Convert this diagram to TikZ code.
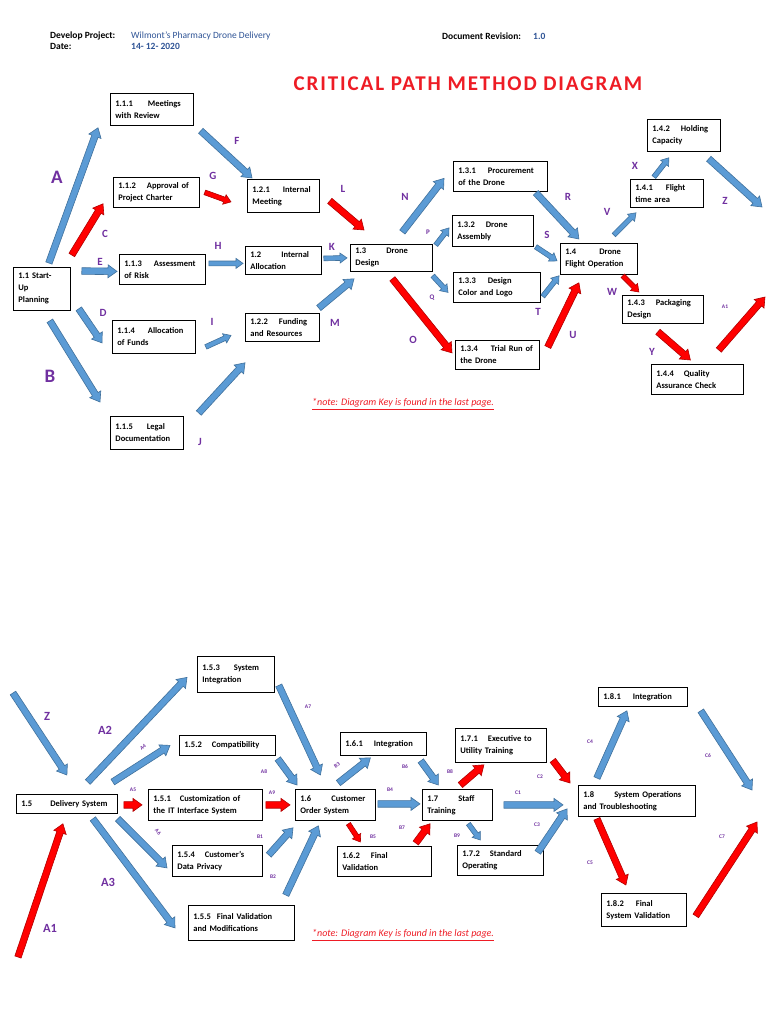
\documentclass[tikz,border=0pt]{standalone}
\usepackage{fontspec}
\setmainfont{Carlito}
\newfontfamily\titlefont[LetterSpace=9]{Carlito}
\usepackage{xcolor}
\usepackage{tikz}
\usetikzlibrary{calc}

\definecolor{arrowblue}{HTML}{5B9BD5}
\definecolor{arrowblueedge}{HTML}{41719C}
\definecolor{arrowred}{HTML}{FF0000}
\definecolor{arrowrededge}{HTML}{B00000}
\definecolor{labelpurple}{HTML}{7030A0}
\definecolor{headblue}{HTML}{2F5496}
\definecolor{titlered}{HTML}{EE1C25}

% block arrow sizes (half shaft, half head, head length)
\def\shaftw{3.3pt}
\def\headw{6.5pt}
\def\headl{9pt}

\begin{document}
\begin{tikzpicture}[x=1pt, y=-1pt,
  box/.style={draw, line width=0.8pt, anchor=north west, align=left,
              inner xsep=5pt, inner ysep=3pt,
              font=\fontsize{8.5}{12}\selectfont\bfseries},
  hdr/.style={anchor=west, inner sep=0pt, font=\fontsize{9.5}{11}\selectfont\bfseries},
  note/.style={anchor=west, inner sep=0pt, text=titlered,
               font=\fontsize{10}{12}\selectfont\itshape},
  lbl/.style={text=labelpurple, inner sep=0pt, font=\fontsize{11}{11}\selectfont\bfseries},
  lblbig/.style={lbl, font=\fontsize{19}{19}\selectfont\bfseries},
  lblmid/.style={lbl, font=\fontsize{12.5}{12.5}\selectfont\bfseries},
  lblsmall/.style={lbl, font=\fontsize{7}{7}\selectfont\bfseries},
  lbltiny/.style={lbl, font=\fontsize{5.5}{5.5}\selectfont\bfseries},
  blockarrow/.style={to path={
      let \p1=(\tikztostart), \p2=(\tikztotarget),
          \n1={atan2(\y2-\y1,\x2-\x1)}, \n2={veclen(\x2-\x1,\y2-\y1)}
      in ($(\p1)+(\n1+90:\shaftw)$)
      -- ($(\p1)+(\n1:{\n2-\headl})+(\n1+90:\shaftw)$)
      -- ($(\p1)+(\n1:{\n2-\headl})+(\n1+90:\headw)$)
      -- (\p2)
      -- ($(\p1)+(\n1:{\n2-\headl})+(\n1-90:\headw)$)
      -- ($(\p1)+(\n1:{\n2-\headl})+(\n1-90:\shaftw)$)
      -- ($(\p1)+(\n1-90:\shaftw)$) -- cycle}},
  bluearr/.style={blockarrow, draw=arrowblueedge, fill=arrowblue, line width=0.6pt},
  redarr/.style={blockarrow, draw=arrowrededge, fill=arrowred, line width=0.6pt},
  slim/.style={/utils/exec={\def\shaftw{2.4pt}\def\headw{5pt}\def\headl{7pt}}}
]
  \fill[white] (0,0) rectangle (768,1024);
  \useasboundingbox (0,0) rectangle (768,1024);

  % header
  \node[hdr] (projkey) at (50,36) {Develop Project:};
  \node[hdr, text=headblue, font=\fontsize{9.5}{11}\selectfont] (projval) at (131,36) {Wilmont's Pharmacy Drone Delivery};
  \node[hdr] (datekey) at (50,46) {Date:};
  \node[hdr, text=headblue] (dateval) at (131,46) {14- 12- 2020};
  \node[hdr] (revkey) at (442,36) {Document Revision:};
  \node[hdr, text=headblue] (revval) at (533,36) {1.0};
  \node[inner sep=0pt, text=titlered, font=\titlefont\fontsize{21}{21}\selectfont\bfseries] (title) at (468,84) {CRITICAL PATH METHOD DIAGRAM};

  % top network
  \node[box, text width=47pt, minimum height=43pt] (n11) at (13,267) {1.1 Start-\\Up\\Planning};
  \node[box, text width=73pt, minimum height=32pt] (n111) at (110,93) {1.1.1\hspace{15pt}Meetings\\with Review};
  \node[box, text width=76pt, minimum height=30pt] (n112) at (113,177) {1.1.2\hspace{11pt}Approval of\\Project Charter};
  \node[box, text width=76pt, minimum height=30pt] (n113) at (119,254) {1.1.3\hspace{12pt}Assessment\\of Risk};
  \node[box, text width=73pt, minimum height=33pt] (n114) at (112,320) {1.1.4\hspace{13pt}Allocation\\of Funds};
  \node[box, text width=63pt, minimum height=33pt] (n115) at (110,416) {1.1.5\hspace{14pt}Legal\\Documentation};
  \node[box, text width=62pt, minimum height=33pt] (n121) at (247,179) {1.2.1\hspace{13pt}Internal\\Meeting};
  \node[box, text width=66pt, minimum height=28pt] (n12) at (245,246) {1.2\hspace{20pt}Internal\\Allocation};
  \node[box, text width=64pt, minimum height=28pt] (n122) at (245,313) {1.2.2\hspace{11pt}Funding\\and Resources};
  \node[box, text width=72pt, minimum height=27pt] (n13) at (350,244) {1.3\hspace{20pt}Drone\\Design};
  \node[box, text width=84pt, minimum height=30pt] (n131) at (453,161) {1.3.1\hspace{12pt}Procurement\\of the Drone};
  \node[box, text width=71pt, minimum height=31pt] (n132) at (452,215) {1.3.2\hspace{11pt}Drone\\Assembly};
  \node[box, text width=77pt, minimum height=30pt] (n133) at (453,272) {1.3.3\hspace{12pt}Design\\Color and Logo};
  \node[box, text width=74pt, minimum height=29pt] (n134) at (455,340) {1.3.4\hspace{13pt}Trial Run of\\the Drone};
  \node[box, text width=67pt, minimum height=31pt] (n14) at (560,243) {1.4\hspace{23pt}Drone\\Flight Operation};
  \node[box, text width=63pt, minimum height=28pt] (n141) at (630,179) {1.4.1\hspace{13pt}Flight\\time area};
  \node[box, text width=63pt, minimum height=32pt] (n142) at (647,119) {1.4.2\hspace{11pt}Holding\\Capacity};
  \node[box, text width=71pt, minimum height=28pt] (n143) at (622,295) {1.4.3\hspace{11pt}Packaging\\Design};
  \node[box, text width=82pt, minimum height=30pt] (n144) at (651,364) {1.4.4\hspace{10pt}Quality\\Assurance Check};

  \coordinate (topend) at (762,207);
  \coordinate (topexit) at (765,297);

  \draw[bluearr] ([shift={(7,-4)}]n11.north) to ([shift={(-12,2)}]n111.south west);
  \draw[redarr] ([shift={(1,-12)}]n11.north east) to ([shift={(-10,-4)}]n112.south west);
  \draw[bluearr] ([shift={(11,4)}]n11.north east) to ([shift={(-2,2)}]n113.west);
  \draw[bluearr] ([shift={(8,-2)}]n11.south east) to ([shift={(-10,6)}]n114.west);
  \draw[bluearr] ([shift={(8,10)}]n11.south) to ([shift={(-10,-14)}]n115.north west);
  \draw[bluearr] ([shift={(7,5)}]n111.south east) to ([shift={(5,-1)}]n121.north west);
  \draw[redarr, slim] ([shift={(5,0)}]n112.east) to ([shift={(-16,6)}]n121.west);
  \draw[bluearr, slim] ([shift={(3,-6)}]n113.east) to ([shift={(-2,3)}]n12.west);
  \draw[bluearr, slim] ([shift={(10,10)}]n114.east) to ([shift={(-14,8)}]n122.west);
  \draw[bluearr] ([shift={(15,-3)}]n115.north east) to ([shift={(0,21)}]n122.south west);
  \draw[redarr] ([shift={(10,5)}]n121.east) to ([shift={(14,-14)}]n13.north west);
  \draw[bluearr, slim] ([shift={(2,-2)}]n12.east) to ([shift={(-3,0)}]n13.west);
  \draw[bluearr] ([shift={(-1,-5)}]n122.north east) to ([shift={(4,7)}]n13.south west);
  \draw[bluearr] ([shift={(11,-12)}]n13.north) to ([shift={(-9,2)}]n131.west);
  \draw[bluearr, slim] ([shift={(3,1)}]n13.north east) to ([shift={(-3,-3)}]n132.west);
  \draw[bluearr, slim] ([shift={(0,4)}]n13.south east) to ([shift={(-5,5)}]n133.west);
  \draw[redarr] ([shift={(1,7)}]n13.south) to ([shift={(-3,-2)}]n134.west);
  \draw[bluearr] ([shift={(-12,1)}]n131.south east) to ([shift={(-20,-4)}]n14.north);
  \draw[bluearr, slim] ([shift={(2,0)}]n132.south east) to ([shift={(-3,2)}]n14.west);
  \draw[bluearr, slim] ([shift={(2,9)}]n133.east) to ([shift={(-1,1)}]n14.south west);
  \draw[redarr] ([shift={(8,7)}]n134.north east) to ([shift={(-20,8)}]n14.south);
  \draw[bluearr, slim] ([shift={(15,-8)}]n14.north) to ([shift={(6,5)}]n141.south west);
  \draw[bluearr, slim] ([shift={(-13,-2)}]n141.north) to ([shift={(-15,6)}]n142.south);
  \draw[bluearr] ([shift={(-12,7)}]n142.south east) to (topend);
  \draw[redarr, slim] ([shift={(-15,1)}]n14.south east) to ([shift={(-24,-3)}]n143.north);
  \draw[redarr] ([shift={(-5,8)}]n143.south) to ([shift={(-7,-4)}]n144.north);
  \draw[redarr] ([shift={(-25,-14)}]n144.north east) to (topexit);

  \node[lblbig] (lA) at (57,177) {A};
  \node[lblbig] (lB) at (50,376) {B};
  \foreach \name/\x/\y in {C/105/234, E/100/262, D/103/313, F/237/141, G/213/176,
      H/218/246, I/212/322, J/200/442, L/343/189, K/332/247, M/335/323, N/405/197,
      O/413/340, R/568/197, S/547/235, T/538/312, U/573/335, V/607/212, X/635/166,
      Z/725/201, W/612/292, Y/652/352}
    \node[lbl] (l\name) at (\x,\y) {\name};
  \node[lblsmall] (lP) at (428,232) {P};
  \node[lblsmall] (lQ) at (432,298) {Q};
  \node[lbltiny] (lAone) at (725,307) {A1};

  \node[note] (notetop) at (312,404) {\underline{*note: Diagram Key is found in the last page.}};

  % bottom network
  \node[box, text width=91pt, minimum height=19pt] (n15) at (16,794) {1.5\hspace{18pt}Delivery System};
  \node[box, text width=104pt, minimum height=31pt] (n151) at (148,789) {1.5.1\hspace{9pt}Customization of\\the IT Interface System};
  \node[box, text width=86pt, minimum height=20pt] (n152) at (179,735) {1.5.2\hspace{10pt}Compatibility};
  \node[box, text width=67pt, minimum height=36pt] (n153) at (197,656) {1.5.3\hspace{14pt}System\\Integration};
  \node[box, text width=80pt, minimum height=31pt] (n154) at (172,845) {1.5.4\hspace{10pt}Customer's\\Data Privacy};
  \node[box, text width=96pt, minimum height=35pt] (n155) at (188,905) {1.5.5\hspace{6pt}Final Validation\\and Modifications};
  \node[box, text width=70pt, minimum height=31pt] (n16) at (295,789) {1.6\hspace{20pt}Customer\\Order System};
  \node[box, text width=76pt, minimum height=23pt] (n161) at (340,732) {1.6.1\hspace{11pt}Integration};
  \node[box, text width=84pt, minimum height=30pt] (n162) at (337,846) {1.6.2\hspace{11pt}Final\\Validation};
  \node[box, text width=60pt, minimum height=31pt] (n17) at (422,789) {1.7\hspace{20pt}Staff\\Training};
  \node[box, text width=81pt, minimum height=34pt] (n171) at (455,728) {1.7.1\hspace{10pt}Executive to\\Utility Training};
  \node[box, text width=76pt, minimum height=30pt] (n172) at (457,845) {1.7.2\hspace{10pt}Standard\\Operating};
  \node[box, text width=107pt, minimum height=31pt] (n18) at (578,785) {1.8\hspace{20pt}System Operations\\and Troubleshooting};
  \node[box, text width=79pt, minimum height=19pt] (n181) at (598,687) {1.8.1\hspace{12pt}Integration};
  \node[box, text width=75pt, minimum height=33pt] (n182) at (601,893) {1.8.2\hspace{12pt}Final\\System Validation};

  \coordinate (botstart) at (13,693);
  \coordinate (botentry) at (18,957);
  \coordinate (finishsix) at (752,790);
  \coordinate (finishseven) at (757,822);

  \draw[bluearr] (botstart) to ([shift={(0,-19)}]n15.north);
  \draw[redarr] (botentry) to ([shift={(-4,10)}]n15.south);
  \draw[bluearr] ([shift={(-30,-12)}]n15.north east) to ([shift={(-10,3)}]n153.west);
  \draw[bluearr] ([shift={(-5,-12)}]n15.north east) to ([shift={(-9,0)}]n152.west);
  \draw[redarr] ([shift={(6,1)}]n15.east) to ([shift={(-6,0)}]n151.west);
  \draw[bluearr] ([shift={(0,5)}]n15.south east) to ([shift={(-5,7)}]n154.west);
  \draw[bluearr] ([shift={(26,5)}]n15.south) to ([shift={(-13,5)}]n155.west);
  \draw[redarr] ([shift={(3,0)}]n151.east) to ([shift={(-5,0)}]n16.west);
  \draw[bluearr] ([shift={(2,3)}]n152.south east) to ([shift={(2,-4)}]n16.north west);
  \draw[bluearr] ([shift={(4,11)}]n153.east) to ([shift={(-15,-14)}]n16.north);
  \draw[bluearr] ([shift={(6,-6)}]n154.east) to ([shift={(-2,7)}]n16.south west);
  \draw[bluearr] ([shift={(-9,-10)}]n155.north east) to ([shift={(-17,5)}]n16.south);
  \draw[bluearr] ([shift={(3,-6)}]n16.north) to ([shift={(-13,2)}]n161.south);
  \draw[bluearr] ([shift={(2,-1)}]n16.east) to ([shift={(-2,-1)}]n17.west);
  \draw[redarr, slim] ([shift={(13,3)}]n16.south) to ([shift={(-24,-4)}]n162.north);
  \draw[bluearr] ([shift={(-6,5)}]n161.south east) to ([shift={(-19,-4)}]n17.north);
  \draw[redarr] ([shift={(-16,-3)}]n162.north east) to ([shift={(8,3)}]n17.south west);
  \draw[redarr] ([shift={(3,-4)}]n17.north) to ([shift={(-17,2)}]n171.south);
  \draw[bluearr, slim] ([shift={(11,3)}]n17.south) to ([shift={(-20,-5)}]n172.north);
  \draw[bluearr] ([shift={(11,0)}]n17.east) to ([shift={(-15,4)}]n18.west);
  \draw[redarr] ([shift={(6,15)}]n171.east) to ([shift={(-8,-2)}]n18.north west);
  \draw[bluearr] ([shift={(-6,-8)}]n172.east) to ([shift={(-11,8)}]n18.west);
  \draw[bluearr] ([shift={(-40,-7)}]n18.north) to ([shift={(-16,4)}]n181.south);
  \draw[redarr] ([shift={(-40,2)}]n18.south) to ([shift={(-18,-8)}]n182.north);
  \draw[bluearr] ([shift={(13,4)}]n181.south east) to (finishsix);
  \draw[redarr] ([shift={(9,6)}]n182.east) to (finishseven);

  \foreach \name/\x/\y in {Z/47/716, A2/105/730, A3/108/882, A1/50/928}
    \node[lblmid] (lb\name) at (\x,\y) {\name};
  \node[lbltiny, rotate=35] (lA4) at (143,747) {A4};
  \node[lbltiny, rotate=-50] (lA6) at (158,832) {A6};
  \node[lbltiny, rotate=35] (lB3) at (337,765) {B3};
  \foreach \name/\x/\y in {A5/133/790, A7/308/707, A8/264/772, A9/272/793,
      B1/260/837, B2/273/877, B4/390/790, B5/373/837, B6/405/767, B7/402/828,
      B8/450/772, B9/457/836, C1/518/793, C2/540/777, C3/537/825, C4/590/742,
      C5/590/863, C6/708/756, C7/722/837}
    \node[lbltiny] (l\name) at (\x,\y) {\name};

  \node[note] (notebottom) at (312,935) {\underline{*note: Diagram Key is found in the last page.}};
\end{tikzpicture}
\end{document}
